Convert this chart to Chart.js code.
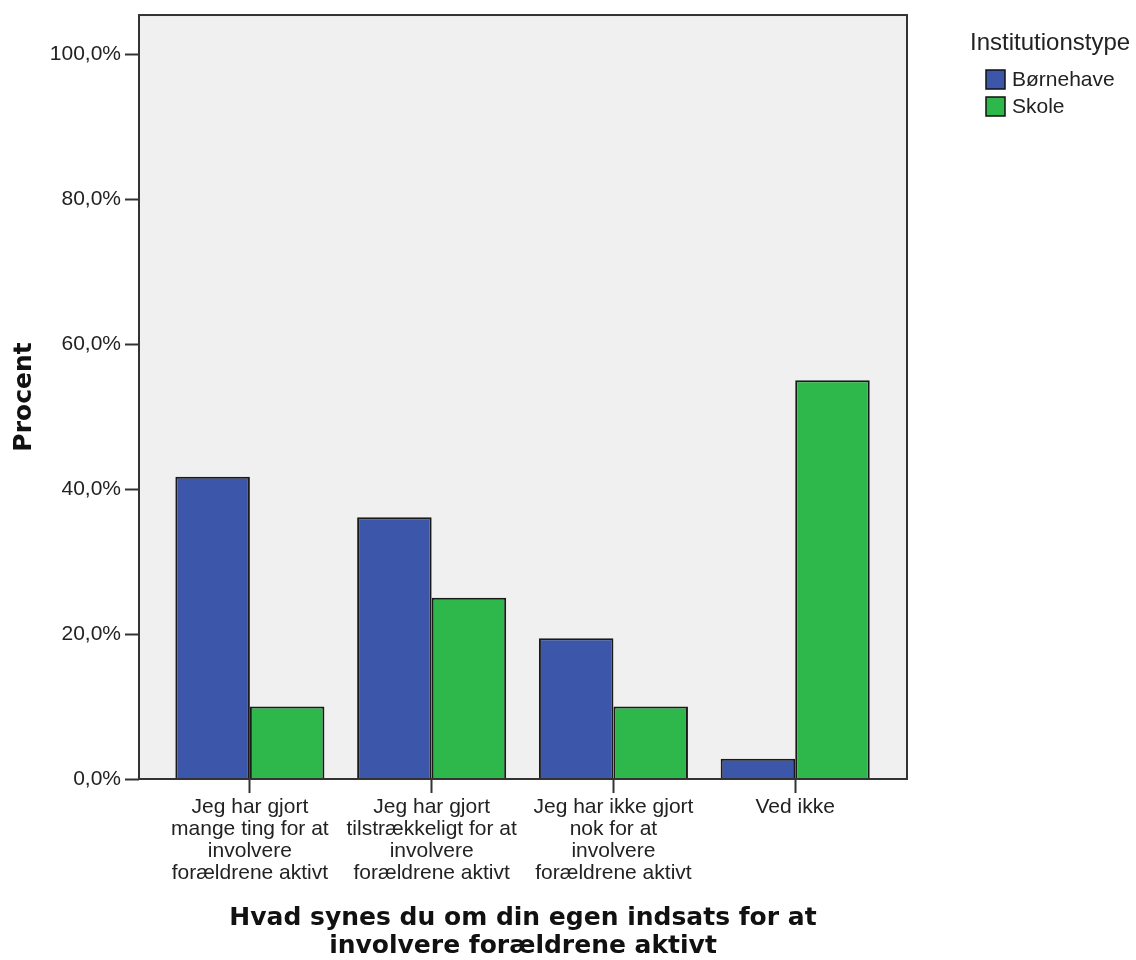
<!DOCTYPE html>
<html lang="da">
<head>
    <meta charset="UTF-8" />
    <title>Institutionstype - indsats</title>
    <script src="https://cdn.jsdelivr.net/npm/chart.js"></script>
    <style>
        body { margin: 0; background: #fff; }
        #wrap { width: 1136px; height: 960px; position: relative; }
    </style>
</head>
<body>
    <div id="wrap"><canvas id="barChart"></canvas></div>

    <script>
        // answer categories (x axis), one entry per group, lines split for wrapping
        const categories = [
            ["Jeg har gjort", "mange ting for at", "involvere", "forældrene aktivt"],
            ["Jeg har gjort", "tilstrækkeligt for at", "involvere", "forældrene aktivt"],
            ["Jeg har ikke gjort", "nok for at", "involvere", "forældrene aktivt"],
            ["Ved ikke"]
        ];
        const seriesNames = ["Børnehave", "Skole"];
        const bornehave = [41.7, 36.1, 19.4, 2.8];
        const skole = [10.0, 25.0, 10.0, 55.0];
        const yTicks = [0, 20, 40, 60, 80, 100];

        const legendTitle = "Institutionstype";
        const xTitle = ["Hvad synes du om din egen indsats for at", "involvere forældrene aktivt"];
        const yTitle = "Procent";

        const colors = ["#3c56a9", "#2eb84b"];
        const tickFont = { family: "'Liberation Sans', Arial, sans-serif", size: 21, lineHeight: 1.05 };
        const boldFont = { family: "'DejaVu Sans', Verdana, sans-serif", size: 25, weight: "bold", lineHeight: 1.12 };

        const toPoints = arr => arr.map((v, i) => ({ x: i, y: v }));

        // grey plot background + dark frame around the plot area
        const framePlugin = {
            id: "frame",
            beforeDatasetsDraw(chart) {
                const { ctx, chartArea: a } = chart;
                ctx.save();
                ctx.fillStyle = "#f0f0f0";
                ctx.fillRect(a.left, a.top, a.right - a.left, a.bottom - a.top);
                ctx.restore();
            },
            afterDatasetsDraw(chart) {
                const { ctx, chartArea: a } = chart;
                ctx.save();
                ctx.strokeStyle = "#333";
                ctx.lineWidth = 2;
                ctx.strokeRect(a.left, a.top, a.right - a.left, a.bottom - a.top);
                ctx.restore();
            }
        };

        // legend drawn at the right like the SPSS output
        const legendPlugin = {
            id: "sideLegend",
            afterDraw(chart) {
                const ctx = chart.ctx;
                ctx.save();
                ctx.fillStyle = "#222";
                ctx.textBaseline = "middle";
                ctx.textAlign = "left";
                ctx.font = "24px 'Liberation Sans', Arial, sans-serif";
                ctx.fillText(legendTitle, 970, 43);
                ctx.font = "21px 'Liberation Sans', Arial, sans-serif";
                chart.data.datasets.forEach((ds, i) => {
                    const y = 70 + i * 27;
                    ctx.fillStyle = ds.backgroundColor;
                    ctx.fillRect(986, y, 19, 19);
                    ctx.strokeStyle = "#111";
                    ctx.lineWidth = 1.5;
                    ctx.strokeRect(986, y, 19, 19);
                    ctx.fillStyle = "#222";
                    ctx.fillText(ds.label, 1012, y + 10);
                });
                ctx.restore();
            }
        };

        const ctx = document.getElementById("barChart").getContext("2d");
        new Chart(ctx, {
            type: "bar",
            data: {
                datasets: [
                    { label: seriesNames[0], data: toPoints(bornehave), backgroundColor: colors[0] },
                    { label: seriesNames[1], data: toPoints(skole), backgroundColor: colors[1] }
                ]
            },
            options: {
                responsive: true,
                maintainAspectRatio: false,
                animation: false,
                layout: { padding: { top: 15, right: 229, left: 0, bottom: 0 } },
                datasets: {
                    bar: {
                        borderColor: "#1a1a1a",
                        borderWidth: 2,
                        categoryPercentage: 0.82,
                        barPercentage: 1
                    }
                },
                plugins: {
                    legend: { display: false },
                    tooltip: { enabled: false }
                },
                scales: {
                    x: {
                        type: "linear",
                        offset: false,
                        min: -0.61,
                        max: 3.615,
                        afterBuildTicks: s => { s.ticks = categories.map((_, i) => ({ value: i })); },
                        afterFit: s => { s.height = 181; },
                        border: { display: false },
                        grid: { offset: false, drawOnChartArea: false, tickLength: 14, tickColor: "#333", tickWidth: 2 },
                        ticks: {
                            color: "#222",
                            font: tickFont,
                            padding: 3,
                            maxRotation: 0,
                            autoSkip: false,
                            callback: v => categories[v]
                        },
                        title: {
                            display: true,
                            text: xTitle,
                            color: "#111",
                            font: boldFont,
                            padding: { top: 0, bottom: 0 }
                        }
                    },
                    y: {
                        min: 0,
                        max: 105.38,
                        afterBuildTicks: s => { s.ticks = yTicks.map(v => ({ value: v })); },
                        afterFit: s => { s.width = 139; },
                        border: { display: false },
                        grid: { drawOnChartArea: false, tickLength: 14, tickColor: "#333", tickWidth: 2 },
                        ticks: {
                            color: "#222",
                            font: tickFont,
                            padding: 4,
                            callback: v => v.toFixed(1).replace(".", ",") + "%"
                        },
                        title: {
                            display: true,
                            text: yTitle,
                            color: "#111",
                            font: boldFont,
                            padding: { top: 10, bottom: 0 }
                        }
                    }
                }
            },
            plugins: [framePlugin, legendPlugin]
        });
    </script>
</body>
</html>
